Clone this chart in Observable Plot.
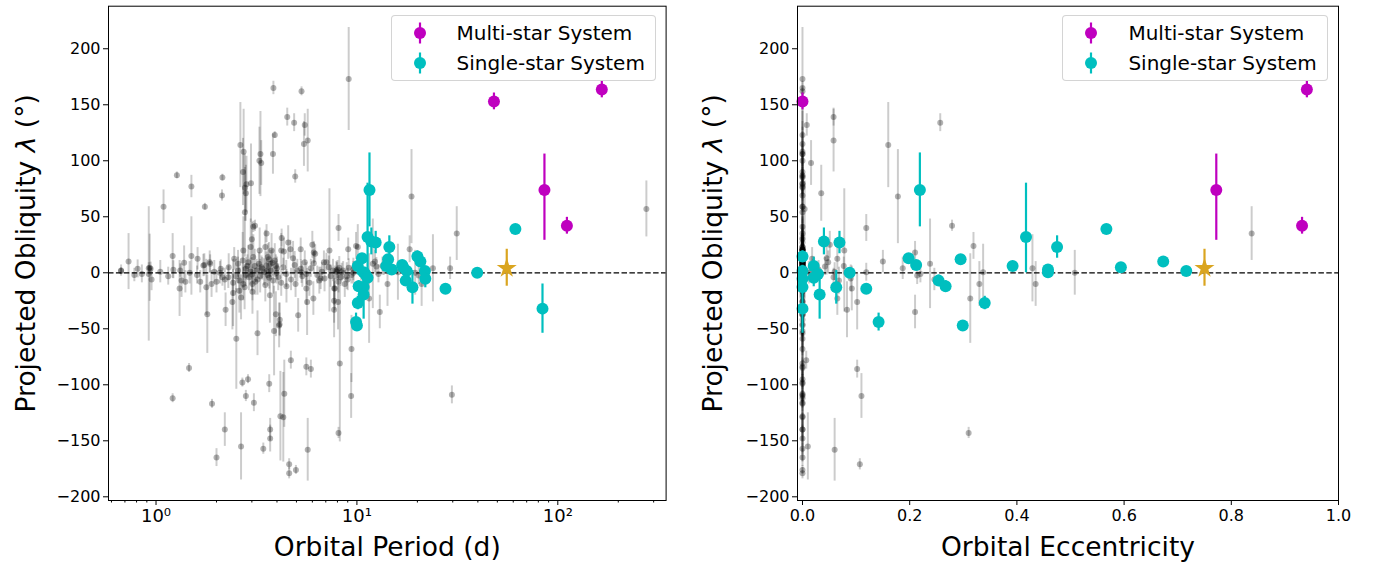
<!DOCTYPE html>
<html>
<head>
<meta charset="utf-8">
<script src="https://cdn.jsdelivr.net/npm/d3@7"></script>
<script src="https://cdn.jsdelivr.net/npm/@observablehq/plot@0.6"></script>
<style>
  body { margin: 0; background: #fff; font-family: "DejaVu Sans", sans-serif; }
  #fig { position: relative; width: 1373px; height: 567px; overflow: hidden; background: #fff; }
  .panel { position: absolute; top: 0; }
  .legend { position: absolute; box-sizing: border-box; border: 1px solid rgba(204,204,204,0.85);
            border-radius: 4px; background: rgba(255,255,255,0.8); }
  .legend svg { position: absolute; overflow: visible; }
  .legend span { position: absolute; font-family: "DejaVu Sans", sans-serif; font-size: 20px;
                 line-height: 1; white-space: nowrap; color: #000; transform: translateY(-50%); }
</style>
</head>
<body>
<div id="fig"></div>
<script>
// ---------------- DATA ----------------
const yLabel = "Projected Obliquity λ (°)";
const xLabelLeft = "Orbital Period (d)";
const xLabelRight = "Orbital Eccentricity";
const legendLabels = ["Multi-star System", "Single-star System"];

const yTicks = [-200, -150, -100, -50, 0, 50, 100, 150, 200];
const periodTicks = [1, 10, 100];
const periodTickLabels = ["10\u2070", "10\u00b9", "10\u00b2"];
const periodMinorTicks = [0.6, 0.7, 0.8, 0.9, 2, 3, 4, 5, 6, 7, 8, 9, 20, 30, 40, 50, 60, 70, 80, 90, 200, 300];
const eccTicks = [0, 0.2, 0.4, 0.6, 0.8, 1.0];

// multi-star systems: [period_d, eccentricity, lambda_deg, errLow, errHigh]
const multiStar = [
  [48.1, 0.0, 153, 7.5, 7.5],
  [165.6, 0.941, 163.7, 7.5, 7.5],
  [85.8, 0.772, 74, 45, 32],
  [111, 0.932, 42, 7.5, 7.5]
];

// single-star systems: [period_d, eccentricity, lambda_deg, errLow, errHigh]
const singleStar = [
  [11.55, 0.219, 74, 33, 33],
  [11.3, 0.417, 32, 32, 48],
  [11.8, 0.04, 28, 12, 12],
  [12.4, 0.069, 27, 10, 10],
  [14.5, 0.475, 23, 10, 10],
  [20.0, 0.0, 14.6, 5, 5],
  [10.6, 0.198, 13, 4, 4],
  [14.3, 0.295, 12, 4, 4],
  [20.7, 0.673, 10, 3, 3],
  [16.8, 0.212, 7, 3, 3],
  [10.1, 0.021, 6, 8, 8],
  [14.0, 0.392, 6, 4, 4],
  [17.0, 0.594, 5, 3, 3],
  [14.9, 0.458, 3, 4, 4],
  [21.8, 0.716, 1.5, 3, 3],
  [39.7, 0.088, 0, 3, 3],
  [10.8, 0.458, 0.5, 4, 4],
  [17.7, 0.0, 1.7, 5, 5],
  [11.0, 0.029, -1, 5, 5],
  [11.3, 0.021, -4.5, 8, 8],
  [21.9, 0.0, -5.4, 8, 8],
  [17.5, 0.254, -7, 5, 5],
  [10.2, 0.267, -12, 5, 5],
  [18.9, 0.063, -13, 15, 15],
  [10.8, 0.0, -12.8, 6, 6],
  [27.6, 0.119, -14.3, 3, 3],
  [10.8, 0.032, -19.4, 22, 22],
  [10.1, 0.34, -27, 6, 6],
  [83.9, 0.0, -32, 22, 22],
  [9.9, 0.142, -44, 8, 8],
  [10.0, 0.299, -47, 4, 4],
  [61.5, 0.567, 39, 3, 3]
];

// highlighted system (star): [period_d, eccentricity, lambda_deg, errLow, errHigh]
const highlighted = [[55.7, 0.75, 4, 16, 17]];

// literature sample: [period_d, eccentricity, lambda_deg, sigma_deg]
const literature = [
  [9.1, 0, 173, 46], [3.84, 0, 165, 6], [5.3, 0, 162, 4], [4.5, 0.058, 139, 8],
  [4.87, 0.257, 134, 8], [5.5, 0.008, 132, 10], [3.9, 0, 123, 3], [5.69, 0.058, 118, 28],
  [5.45, 0, 115, 20], [2.63, 0.16, 114, 38], [2.73, 0, 108, 38], [3.31, 0, 106, 38],
  [3.82, 0, 106, 18], [3.27, 0, 100, 30], [3.34, 0.016, 98, 20], [2.71, 0, 90, 30],
  [4.93, 0, 86, 6], [2.14, 0, 85, 3], [1.27, 0, 87, 3], [2.97, 0, 80, 35],
  [2.82, 0, 79, 25], [2.77, 0, 76, 30], [1.5, 0, 77, 10], [2.8, 0.035, 71, 25],
  [2.13, 0, 69, 5], [18.7, 0.178, 68, 42], [1.75, 0, 59, 3], [1.09, 0, 59, 15],
  [276, 0.004, 57, 25], [2.77, 0, 54, 40], [3.11, 0.279, 42, 5], [3.05, 0, 41, 5],
  [8.1, 0.119, 40, 12], [31.4, 0.838, 35, 24], [3.55, 0, 35, 8], [4.22, 0, 31, 8],
  [3.0, 0, 30, 15],
  [4.55, 0, 27, 15], [6.0, 0.051, 25, 12], [9.9, 0.319, 24, 12], [10.1, 0, 23, 20],
  [2.96, 0, 23, 25], [3.5, 0, 23, 15], [18.3, 0, 21, 12], [9.05, 0, 21, 10],
  [4.67, 0, 21, 8], [5.25, 0, 21, 10], [7.3, 0.078, 20, 55], [4.2, 0, 20, 15],
  [3.76, 0, 20, 15], [3.28, 0, 20, 20], [2.72, 0, 20, 30], [4.33, 0, 19, 12],
  [6.1, 0.21, 18, 10], [6.2, 0, 17, 8], [1.21, 0, 15, 20], [1.5, 0, 15, 35],
  [3.6, 0, 14, 12], [3.05, 0, 14, 20], [4.81, 0.045, 13, 15], [1.61, 0.018, 12.5, 10],
  [2.45, 0.065, 12.5, 10], [2.7, 0, 11, 25], [3.9, 0, 11, 15], [12.3, 0.15, 10, 10],
  [0.73, 0, 10, 25], [7.05, 0, 9.5, 8], [6.85, 0.048, 9.5, 10], [5.5, 0, 9.5, 10],
  [2.88, 0, 9.5, 15], [1.85, 0, 9.5, 10], [1.38, 0, 9, 15], [6.1, 0, 8.5, 10],
  [12.0, 0.238, 8, 40], [3.72, 0, 8, 12], [3.25, 0, 8, 10], [2.56, 0, 8, 12],
  [1.86, 0, 8, 8], [1.74, 0, 7, 10], [1.72, 0, 6.5, 10], [3.55, 0, 6.5, 12],
  [3.1, 0, 6, 15], [13.4, 0.077, 6, 8], [12.5, 0, 5.6, 8], [13.6, 0.042, 5.6, 8],
  [4.3, 0, 5, 8], [0.93, 0, 4.5, 30], [8.17, 0, 4.5, 10], [9.1, 0, 4.5, 8],
  [29.1, 0.187, 4, 10], [23.9, 0.429, 4, 30], [0.92, 0, 4, 5],
  [3.38, 0, 3.5, 10], [2.8, 0, 3.5, 10], [2.1, 0, 3.5, 8], [0.81, 0, 3.5, 8],
  [0.94, 0, 3.5, 6], [5.26, 0, 3.5, 8], [8.0, 0.03, 3, 8], [9.6, 0, 3, 10],
  [1.22, 0, 2.7, 8], [0.67, 0, 2, 5], [1.32, 0, 2, 6], [2.56, 0, 2, 12],
  [3.17, 0, 2, 10], [3.72, 0, 2, 8], [8.54, 0, 2, 8], [7.6, 0.02, 2, 10],
  [7.9, 0, 2, 8], [0.67, 0, 1.5, 3], [3.55, 0, 1.5, 10], [7.95, 0.06, 1, 8],
  [5.3, 0, 0.5, 10], [16.0, 0.337, 0.5, 25], [10.5, 0.119, 0.5, 8], [8.4, 0, 0.5, 8],
  [1.47, 0, 0, 10], [2.08, 0, 0, 10], [3.98, 0, 0, 10], [9.6, 0.012, 0, 10],
  [19.5, 0.508, 0, 20], [0.92, 0, -1, 60], [5.6, 0, -1, 10], [12.8, 0.22, -1, 8],
  [3.0, 0, -1.5, 15], [0.78, 0, -2, 6], [2.8, 0, -2, 10], [9.4, 0, -2, 8],
  [20.3, 0.214, -2.5, 8], [5.35, 0, -3, 10], [3.3, 0, -3, 15], [8.9, 0, -3, 12],
  [2.14, 0, -4, 8], [2.29, 0, -4, 10], [2.9, 0, -4, 12], [4.06, 0, -4, 12],
  [8.3, 0.058, -4, 8], [3.66, 0, -4.5, 10], [6.6, 0, -5, 10], [6.9, 0.09, -5, 12],
  [0.95, 0, -6, 10], [2.2, 0, -6, 10], [11.2, 0.246, -6, 10], [1.34, 0, -7, 15],
  [3.83, 0, -7, 12], [6.5, 0.068, -7, 12],
  [1.4, 0, -8, 10], [1.66, 0, -8, 10], [2.0, 0, -8, 10], [8.1, 0, -8, 10],
  [2.42, 0, -9, 12], [1.89, 0, -10, 12], [2.72, 0, -10, 15], [3.02, 0, -10, 15],
  [4.95, 0, -10, 12], [8.7, 0, -10, 12], [14.2, 0.33, -10, 20], [21.0, 0.435, -10, 20],
  [4.46, 0, -12, 15], [1.78, 0, -13, 25], [2.76, 0, -13, 20], [1.31, 0, -14, 25],
  [5.6, 0, -14, 15], [7.7, 0, -14, 15], [7.77, 0.092, -14, 20], [2.6, 0, -16, 20],
  [3.02, 0, -17, 20], [2.42, 0, -18, 30], [3.69, 0, -20, 25], [2.65, 0, -22, 20],
  [6.07, 0.065, -23, 15], [11.5, 0.313, -23, 40], [7.7, 0, -25, 20], [2.4, 0, -26, 25],
  [5.65, 0, -26, 30], [8.05, 0.102, -26, 25], [2.22, 0, -33, 15], [7.7, 0.083, -33, 25],
  [13.0, 0.21, -35, 15], [1.8, 0, -37, 35], [3.95, 0, -37, 20], [5.1, 0, -38, 15],
  [4.13, 0, -42, 15], [4.12, 0, -46, 10], [4.1, 0, -47, 20], [3.87, 0, -52, 40],
  [3.2, 0, -54, 20], [2.51, 0, -59, 45], [9.4, 0, -68, 30], [4.69, 0.007, -78, 8],
  [8.22, 0, -81, 70], [5.6, 0, -84, 8], [1.46, 0, -85, 4], [5.9, 0.102, -86, 8],
  [2.87, 0, -95, 4], [2.69, 0, -98, 4], [3.66, 0, -99, 8], [4.35, 0, -108, 30],
  [29.7, 0, -109, 8], [2.8, 0, -110, 5], [9.36, 0.11, -110, 20], [1.21, 0, -112, 4],
  [3.07, 0, -116, 8], [1.9, 0, -117, 4], [4.16, 0, -128, 40], [4.3, 0, -129, 40],
  [2.2, 0, -140, 15], [3.7, 0, -140, 10], [8.1, 0.31, -143, 5], [3.7, 0, -148, 12],
  [2.65, 0.01, -155, 30], [3.42, 0, -157, 5], [5.69, 0.06, -158, 28], [2.0, 0, -165, 8],
  [4.6, 0.107, -171, 5], [4.97, 0, -176, 4], [4.6, 0, -179, 5],
  [3.45, 0, 0.5, 12], [3.6, 0, -2, 10], [3.35, 0, 5, 10], [4.0, 0, 4, 10],
  [4.45, 0, -1, 12], [2.95, 0, 1, 12], [3.2, 0, -6, 14], [3.8, 0, 9, 12],
  [2.5, 0, -3, 15], [2.3, 0, 5, 12], [1.6, 0, -2, 8], [1.95, 0, 1, 10],
  [4.7, 0, -6, 10], [5.05, 0, 2, 10], [5.9, 0, 4, 8], [6.35, 0, -2, 8],
  [7.25, 0, 5, 10], [4.2, 0, -9, 12], [3.5, 0, -11, 15], [2.85, 0, 6, 10],
  [1.15, 0, -3, 8], [1.05, 0, 1, 10], [0.85, 0, -1, 8], [6.7, 0, 1, 8],
  [3.95, 0, 6, 10], [3.12, 0, -8, 12], [3.65, 0, 12, 15], [2.6, 0, -7, 12],
  [4.9, 0, 7, 12], [5.8, 0, -9, 12], [9.0, 0, -6, 10], [7.4, 0, -3, 10]
];

// ---------------- BUILD ----------------
const CYAN = "#00bfbf", MAGENTA = "#bf00bf", GOLD = "#daa520";
const FONT = "DejaVu Sans";
const yDomain = [-203.3, 238];
const fmtY = d => d < 0 ? "\u2212" + Math.abs(d) : String(d);

const grayData = literature.map(([P, e, lam, s]) => ({P, e, lam, y1: lam - s, y2: lam + s}));
const toObj = ([P, e, lam, lo, hi]) => ({P, e, lam, y1: lam - lo, y2: lam + hi});
const singleData = singleStar.map(toObj);
const multiData = multiStar.map(toObj);
const starData = highlighted.map(toObj);

function buildPanel(cfg) {
  const xf = cfg.xField;
  const marks = [
    Plot.ruleX(grayData, {x: xf, y1: "y1", y2: "y2", stroke: "#000", strokeOpacity: 0.2, strokeWidth: 2}),
    Plot.dot(grayData, {x: xf, y: "lam", r: 3, fill: "#000", fillOpacity: 0.3}),
    Plot.ruleY([0], {stroke: "#000", strokeWidth: 1.3, strokeDasharray: "5.5,2.4"}),
    Plot.ruleX(singleData, {x: xf, y1: "y1", y2: "y2", stroke: CYAN, strokeWidth: 2.2}),
    Plot.dot(singleData, {x: xf, y: "lam", r: 6, fill: CYAN}),
    Plot.ruleX(multiData, {x: xf, y1: "y1", y2: "y2", stroke: MAGENTA, strokeWidth: 2.2}),
    Plot.dot(multiData, {x: xf, y: "lam", r: 6, fill: MAGENTA}),
    Plot.ruleX(starData, {x: xf, y1: "y1", y2: "y2", stroke: GOLD, strokeWidth: 2.2}),
    Plot.dot(starData, {x: xf, y: "lam", r: 6.3, symbol: "star", fill: GOLD}),
    Plot.frame({stroke: "#000", strokeWidth: 1}),
    Plot.axisY(yTicks, {tickSize: 5, tickPadding: 3, tickFormat: fmtY, label: null}),
    Plot.axisX(cfg.xTicks, {tickSize: 5, tickPadding: 4, tickFormat: cfg.xFmt, fontSize: cfg.xTickFontSize, label: null})
  ];
  if (cfg.minorTicks) {
    marks.push(Plot.axisX(cfg.minorTicks, {tickSize: 2.5, tickFormat: () => "", label: null}));
  }
  marks.push(
    Plot.text([yLabel], {frameAnchor: "left", dx: cfg.yLabelDx, rotate: -90, fontSize: 26.5,
                         textAnchor: "middle", lineAnchor: "middle", text: d => d}),
    Plot.text([cfg.xLabel], {frameAnchor: "bottom", dy: 47, fontSize: 26.5,
                             textAnchor: "middle", lineAnchor: "middle", text: d => d})
  );
  const svg = Plot.plot({
    width: cfg.width, height: 567,
    marginLeft: cfg.marginLeft, marginRight: cfg.marginRight, marginTop: 5.7, marginBottom: 67,
    x: Object.assign({label: null}, cfg.xScale),
    y: {domain: yDomain, label: null},
    style: {fontFamily: FONT, fontSize: "16px", color: "#000", background: "transparent", overflow: "visible"},
    marks
  });
  // italic lambda in the y label (matplotlib mathtext style)
  svg.querySelectorAll("text").forEach(t => {
    if (t.textContent === yLabel && t.children.length === 0) {
      const parts = yLabel.split("λ");
      const ns = "http://www.w3.org/2000/svg";
      t.textContent = "";
      const a = document.createElementNS(ns, "tspan"); a.textContent = parts[0];
      const b = document.createElementNS(ns, "tspan"); b.textContent = "λ"; b.setAttribute("font-style", "italic");
      const c = document.createElementNS(ns, "tspan"); c.textContent = parts[1];
      t.append(a, b, c);
    }
  });
  return svg;
}

const fig = document.getElementById("fig");

const left = buildPanel({
  xField: "P", width: 686, marginLeft: 108, marginRight: 20.4,
  xScale: {type: "log", domain: [0.58, 346]},
  xTicks: periodTicks, xFmt: d => periodTickLabels[periodTicks.indexOf(d)], xTickFontSize: 18,
  minorTicks: periodMinorTicks, xLabel: xLabelLeft, yLabelDx: -82
});
const right = buildPanel({
  xField: "e", width: 687, marginLeft: 111, marginRight: 35,
  xScale: {domain: [-0.0093, 1.0]},
  xTicks: eccTicks, xFmt: d => d.toFixed(1), xTickFontSize: 16,
  minorTicks: null, xLabel: xLabelRight, yLabelDx: -84
});

const wrapL = document.createElement("div"); wrapL.className = "panel"; wrapL.style.left = "0px"; wrapL.append(left);
const wrapR = document.createElement("div"); wrapR.className = "panel"; wrapR.style.left = "686px"; wrapR.append(right);
fig.append(wrapL, wrapR);

function makeLegend(x, y) {
  const box = document.createElement("div");
  box.className = "legend";
  Object.assign(box.style, {left: x + "px", top: y + "px", width: "265.5px", height: "66px"});
  const colors = [MAGENTA, CYAN];
  const rows = [17, 47];
  legendLabels.forEach((lab, i) => {
    const s = document.createElementNS("http://www.w3.org/2000/svg", "svg");
    s.setAttribute("width", "20"); s.setAttribute("height", "24");
    s.style.left = (28 - 10) + "px"; s.style.top = (rows[i] - 12) + "px";
    s.innerHTML = `<line x1="10" x2="10" y1="1.5" y2="22.5" stroke="${colors[i]}" stroke-width="2.2"/>` +
                  `<circle cx="10" cy="12" r="6" fill="${colors[i]}"/>`;
    const sp = document.createElement("span");
    sp.textContent = lab;
    sp.style.left = "65px"; sp.style.top = rows[i] + "px";
    box.append(s, sp);
  });
  fig.append(box);
}
makeLegend(390.5, 14.5);
makeLegend(1062.4, 14.5);
</script>
</body>
</html>
